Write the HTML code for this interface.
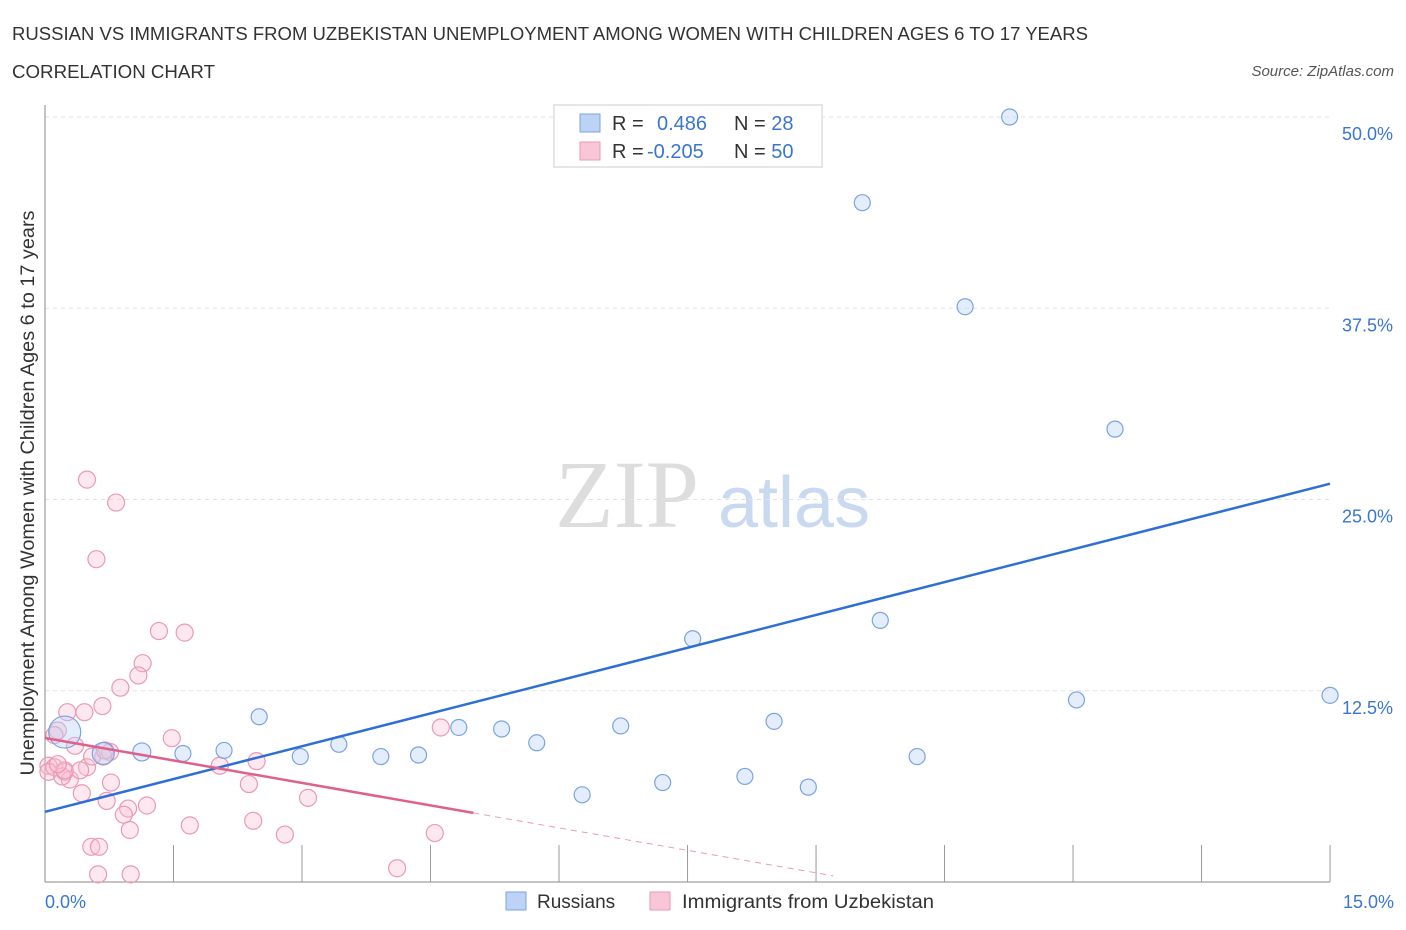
<!DOCTYPE html>
<html><head><meta charset="utf-8"><style>
body{margin:0;background:#fff;font-family:"Liberation Sans",sans-serif;}
svg{display:block}
</style></head><body>
<svg id="chart" width="1406" height="930">
<text x="12" y="40" font-size="18" fill="#333" textLength="1076" lengthAdjust="spacingAndGlyphs">RUSSIAN VS IMMIGRANTS FROM UZBEKISTAN UNEMPLOYMENT AMONG WOMEN WITH CHILDREN AGES 6 TO 17 YEARS</text>
<text x="12" y="78" font-size="18" fill="#333" textLength="203" lengthAdjust="spacingAndGlyphs">CORRELATION CHART</text>
<text x="1394" y="76" font-size="15" fill="#555" font-style="italic" text-anchor="end">Source: ZipAtlas.com</text>
<text x="555" y="527" font-size="96" fill="#ddd" font-family="Liberation Serif">ZIP</text>
<text x="718" y="527" font-size="72" fill="#c9daf0">atlas</text>
<g id="grid"></g><g id="marks"></g>
<text transform="translate(34,493) rotate(-90)" font-size="19" fill="#333" text-anchor="middle" textLength="565" lengthAdjust="spacingAndGlyphs">Unemployment Among Women with Children Ages 6 to 17 years</text>
<text x="45" y="908" font-size="18" fill="#3a76d0">0.0%</text>
<text x="1394" y="908" font-size="18" fill="#3a76d0" text-anchor="end">15.0%</text>
<g>
<rect x="554" y="105" width="268" height="62" fill="#fff" stroke="#ccc"/>
<rect x="580" y="114" width="20" height="18" fill="#bcd3f5" stroke="#7aa4e0"/>
<rect x="580" y="142" width="20" height="18" fill="#f8c6d6" stroke="#e99ab4"/>
<text x="612" y="130" font-size="20" fill="#333">R = <tspan fill="#3a76d0" x="657">0.486</tspan><tspan x="734" fill="#333">N = </tspan><tspan fill="#3a76d0">28</tspan></text>
<text x="612" y="158" font-size="20" fill="#333">R = <tspan fill="#3a76d0" x="647">-0.205</tspan><tspan x="734" fill="#333">N = </tspan><tspan fill="#3a76d0">50</tspan></text>
</g>
<g>
<rect x="506" y="892" width="20" height="18" fill="#bcd3f5" stroke="#7aa4e0"/>
<text x="537" y="908" font-size="19" fill="#333">Russians</text>
<rect x="650" y="892" width="20" height="18" fill="#f8c6d6" stroke="#e99ab4"/>
<text x="682" y="908" font-size="19" fill="#333" textLength="252" lengthAdjust="spacingAndGlyphs">Immigrants from Uzbekistan</text>
</g>
</svg>
<script>
const yTicks=[12.5,25,37.5,50];
const yTickLabels=["12.5%","25.0%","37.5%","50.0%"];
const blueX=[0.23,0.68,1.13,1.61,2.09,2.5,2.98,3.43,3.92,4.36,4.83,5.33,5.74,6.27,6.72,7.21,7.56,8.17,8.51,8.91,9.54,9.75,10.18,10.74,11.26,12.04,12.49,15.0];
const blueY=[9.8,8.4,8.5,8.4,8.6,10.8,8.2,9.0,8.2,8.3,10.1,10.0,9.1,5.7,10.2,6.5,15.9,6.9,10.5,6.2,44.4,17.1,8.2,37.6,50.0,11.9,29.6,12.2];
const blueR=[17,12,10,9,9,9,9,9,9,9,9,9,9,9,9,9,9,9,9,9,9,9,9,9,9,9,9,9];
const pinkX=[0.49,0.83,0.6,1.33,1.63,1.14,1.09,0.88,0.67,0.46,0.26,0.15,0.11,0.35,0.76,0.68,0.49,0.04,0.11,0.23,0.29,0.04,0.2,0.77,0.43,0.72,1.19,0.97,0.92,0.99,1.48,2.04,2.47,2.38,3.07,4.62,1.69,2.43,2.8,4.55,0.54,0.63,0.62,1.0,4.11,0.23,0.55,0.15,0.41,0.7];
const pinkY=[26.3,24.8,21.1,16.4,16.3,14.3,13.5,12.7,11.5,11.1,11.1,9.9,9.6,8.9,8.5,8.2,7.5,7.6,7.5,7.2,6.7,7.2,6.9,6.5,5.8,5.3,5.0,4.8,4.4,3.4,9.4,7.6,7.9,6.4,5.5,10.1,3.7,4.0,3.1,3.2,2.3,2.3,0.5,0.5,0.9,7.3,8.2,7.7,7.3,8.6];
const xs=v=>45+v*85.67, ys=v=>882-v*15.3;
const NS="http://www.w3.org/2000/svg";
const grid=document.getElementById('grid'), marks=document.getElementById('marks');
function mk(t,a,p){const e=document.createElementNS(NS,t);for(const k in a)e.setAttribute(k,a[k]);p.appendChild(e);return e;}
yTicks.forEach((t,i)=>{
 const l=mk('line',{x1:45,x2:1330,y1:ys(t),y2:ys(t),stroke:'#e2e2e2','stroke-dasharray':'4,4'},grid);
 
 
 const tx=mk('text',{x:1393,y:ys(t)+23,'font-size':18,fill:'#3a76d0','text-anchor':'end'},grid);
 tx.textContent=yTickLabels[i];
 
 
});
const ax=mk('line',{x1:45,x2:45,y1:105,y2:882,stroke:'#888'},grid);


const bx=mk('line',{x1:45,x2:1330,y1:882,y2:882,stroke:'#888'},grid);


for(let i=1;i<=10;i++){const t=mk('line',{x1:xs(i*1.5),x2:xs(i*1.5),y1:845,y2:882,stroke:'#999'},grid);
 
 }
pinkX.forEach((x,i)=>{const c=mk('circle',{cx:xs(x),cy:ys(pinkY[i]),r:8.5,fill:'rgba(248,190,210,0.35)',stroke:'#e99ab4','stroke-width':1.2},marks);
 
 });
blueX.forEach((x,i)=>{const c=mk('circle',{cx:xs(x),cy:ys(blueY[i]),r:blueR[i]-1,fill:'rgba(188,211,245,0.4)',stroke:'#7aa4e0','stroke-width':1.2},marks);
 
 });
function fit(X,Y){const n=X.length;let mx=0,my=0;X.forEach((v,i)=>{mx+=v;my+=Y[i]});mx/=n;my/=n;let a=0,b=0;X.forEach((v,i)=>{a+=(v-mx)*(Y[i]-my);b+=(v-mx)*(v-mx)});const s=a/b;return [s,my-s*mx];}
const [bs,bi]=fit(blueX,blueY);
const bl=mk('line',{x1:xs(0),y1:ys(bi),x2:xs(15),y2:ys(bi+bs*15),stroke:'#2e6fd6','stroke-width':2.5},marks);


const [ps,pi]=fit(pinkX,pinkY);
const pl=mk('line',{x1:xs(0),y1:ys(pi),x2:xs(5),y2:ys(pi+ps*5),stroke:'#e0608c','stroke-width':2.5},marks);


const pd=mk('line',{x1:xs(5),y1:ys(pi+ps*5),x2:xs(9.2),y2:ys(pi+ps*9.2),stroke:'#e99ab4','stroke-width':1,'stroke-dasharray':'6,5'},marks);


</script>
</body></html>
